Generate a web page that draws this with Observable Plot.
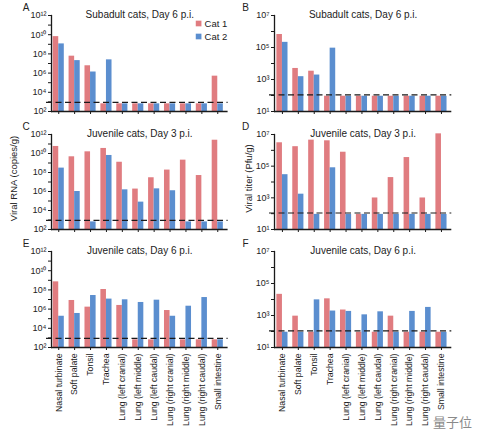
<!DOCTYPE html>
<html><head><meta charset="utf-8">
<script src="https://cdn.jsdelivr.net/npm/d3@7"></script>
<script src="https://cdn.jsdelivr.net/npm/@observablehq/plot@0.6"></script>
<style>
body{margin:0;background:#fff;}
#chart{position:relative;width:477px;height:439px;font-family:"Liberation Sans",Arial,sans-serif;overflow:hidden;}
#chart > svg{position:absolute;overflow:visible;}
#wm{position:absolute;left:433px;top:412px;font-family:"Noto Sans CJK SC",sans-serif;font-size:13px;color:#8a8a8a;}
</style></head><body><div id="chart"><div id="wm">量子位</div></div>
<script>
const categories = ["Nasal turbinate","Soft palate","Tonsil","Trachea","Lung (left cranial)","Lung (left middle)","Lung (left caudal)","Lung (right cranial)","Lung (right middle)","Lung (right caudal)","Small intestine"];
const seriesNames = ["Cat 1","Cat 2"];
const seriesColors = ["#e07c80","#5b8ecf"];

const rnaDomain = [1e2, 1e12];
const rnaTicks = [1e2,1e3,1e4,1e5,1e6,1e7,1e8,1e9,1e10,1e11,1e12];
const rnaLabeled = [1e2,1e4,1e6,1e8,1e10,1e12];
const rnaLOD = 9e2;
const rnaAxisTitle = "Viral RNA (copies/g)";

const titerDomain = [1e1, 1e7];
const titerTicks = [1e1,1e2,1e3,1e4,1e5,1e6,1e7];
const titerLabeled = [1e1,1e3,1e5,1e7];
const titerLOD = 1.1e2;
const titerAxisTitle = "Viral titer (Pfu/g)";

// Panel A: subadult, day 6, RNA
const aCat1 = [6.3e9,5.8e7,5.8e6,6.3e2,6.3e2,6.3e2,6.3e2,6.3e2,6.3e2,6.3e2,4.8e5];
const aCat2 = [1.1e9,2.0e7,1.3e6,2.4e7,6.3e2,6.3e2,6.3e2,6.3e2,6.3e2,6.3e2,6.3e2];
// Panel B: subadult, day 6, titer
const bCat1 = [6.5e5,4.9e3,3.3e3,9e1,9e1,9e1,9e1,9e1,9e1,9e1,9e1];
const bCat2 = [2.1e5,1.5e3,1.9e3,9.1e4,9e1,9e1,9e1,9e1,9e1,9e1,9e1];
// Panel C: juvenile, day 3, RNA
const cCat1 = [5.5e10,4.5e9,1.5e10,3.4e10,1.2e9,1.8e6,2.8e7,1.8e8,2.0e9,4.8e7,2.5e11];
const cCat2 = [2.9e8,1.0e6,6.3e2,6.2e9,1.5e6,7.6e4,1.9e6,1.2e6,6.3e2,6.3e2,6.3e2];
// Panel D: juvenile, day 3, titer
const dCat1 = [3.0e6,1.7e6,4.4e6,4.0e6,7.6e5,9e1,9.8e2,1.9e4,3.5e5,9.8e2,1.1e7];
const dCat2 = [2.9e4,1.7e3,9e1,7.9e4,9e1,9e1,9e1,9e1,9e1,9e1,9e1];
// Panel E: juvenile, day 6, RNA
const eCat1 = [6.9e8,7.9e6,1.6e6,1.1e8,2.4e6,6.3e2,6.3e2,7.1e5,6.3e2,6.3e2,6.3e2];
const eCat2 = [1.8e5,3.5e5,2.6e7,1.1e7,9.3e6,4.9e6,8.5e6,1.8e5,2.0e6,1.6e7,6.3e2];
// Panel F: juvenile, day 6, titer
const fCat1 = [2.1e4,9.1e2,9e1,1.1e4,2.2e3,9e1,9e1,9.1e2,9e1,9e1,9e1];
const fCat2 = [9e1,9e1,9.5e3,1.9e3,1.8e3,1.1e3,1.7e3,9e1,1.8e3,3.2e3,9e1];

const titles = ["Subadult cats, Day 6 p.i.","Juvenile cats, Day 3 p.i.","Juvenile cats, Day 6 p.i."];
const letters = ["A","B","C","D","E","F"];

const sup = "⁰¹²³⁴⁵⁶⁷⁸⁹";
function fmtPow(d) {
  const e = Math.round(Math.log10(d));
  return "10" + String(e).split("").map(c => sup[+c]).join("");
}

const ink = "#1a1a1a";
const font = "Liberation Sans, Arial, sans-serif";

function panel(cfg) {
  const {letter, title, cat1, cat2, rna, left, top, width, height, marginLeft, marginRight, marginBottom, xRange, showLabels, yTitle, legend, letterDx} = cfg;
  const domain = rna ? rnaDomain : titerDomain;
  const base = domain[0];
  const ticks = rna ? rnaTicks : titerTicks;
  const labeled = rna ? rnaLabeled : titerLabeled;
  const lod = rna ? rnaLOD : titerLOD;
  const pad = 0.3;
  const step = (xRange[1] - xRange[0]) / (categories.length + pad);
  const half = step * (1 - pad) / 2;
  const rows1 = categories.map((c, i) => ({cat: c, v: cat1[i]}));
  const rows2 = categories.map((c, i) => ({cat: c, v: cat2[i]}));
  const marks = [
    Plot.barY(rows1, {x: "cat", y1: base, y2: "v", fill: seriesColors[0], insetRight: half}),
    Plot.barY(rows2, {x: "cat", y1: base, y2: "v", fill: seriesColors[1], insetLeft: half}),
    Plot.ruleY([lod], {stroke: ink, strokeWidth: 1.2, strokeDasharray: "6,3.5", insetLeft: -5}),
    Plot.ruleY([base], {stroke: ink, strokeWidth: 1.3}),
    Plot.frame({anchor: "left", stroke: ink, strokeWidth: 1.3}),
    Plot.axisY({ticks, tickFormat: d => labeled.includes(d) ? fmtPow(d) : "", tickSize: 3, tickPadding: 2, fontSize: 9, label: null, stroke: ink, fill: "#222"}),
    Plot.axisX({tickSize: 3, tickFormat: showLabels ? (d => d) : (() => ""), tickRotate: showLabels ? -90 : 0, tickPadding: 3, fontSize: 8.7, label: null, stroke: ink, fill: "#222"}),
    Plot.text([title], {frameAnchor: "top", lineAnchor: "middle", dy: -1, fontSize: 10, fill: "#222"}),
    Plot.text([letter], {frameAnchor: "top-left", textAnchor: "middle", lineAnchor: "middle", dx: letterDx, dy: -7.5, fontSize: 10, fill: "#222"})
  ];
  if (yTitle) {
    marks.push(Plot.text([yTitle.text], {frameAnchor: "left", textAnchor: "middle", lineAnchor: "middle", rotate: -90, dx: yTitle.dx, dy: -3.5, fontSize: 9.5, fill: "#222"}));
  }
  if (legend) {
    seriesNames.forEach((s, i) => {
      marks.push(Plot.dot([s], {frameAnchor: "top-right", symbol: "square", r: 3.2, fill: seriesColors[i], dx: -29.5, dy: 8 + 13 * i}));
      marks.push(Plot.text([s], {frameAnchor: "top-right", textAnchor: "start", lineAnchor: "middle", dx: -23.5, dy: 8 + 13 * i, fontSize: 9.5, fill: "#222"}));
    });
  }
  const svg = Plot.plot({
    width, height, marginLeft, marginRight, marginTop: 15, marginBottom,
    style: {background: "none", fontFamily: font, overflow: "visible"},
    x: {type: "band", domain: categories, range: xRange, padding: pad, round: false},
    y: {type: "log", domain},
    marks
  });
  svg.style.left = left + "px";
  svg.style.top = top + "px";
  document.getElementById("chart").appendChild(svg);
}

const L = {left: 0, width: 240, marginLeft: 51, marginRight: 12.4, xRange: [47.9, 227.6], letterDx: -25.5};
const R = {left: 240, width: 237, marginLeft: 34, marginRight: 25.7, xRange: [31.6, 211.3], letterDx: -29};

panel({...L, letter: letters[0], title: titles[0], cat1: aCat1, cat2: aCat2, rna: true, top: 0, height: 120, marginBottom: 9, legend: true});
panel({...R, letter: letters[1], title: titles[0], cat1: bCat1, cat2: bCat2, rna: false, top: 0, height: 120, marginBottom: 9});
panel({...L, letter: letters[2], title: titles[1], cat1: cCat1, cat2: cCat2, rna: true, top: 119, height: 120, marginBottom: 10, yTitle: {text: rnaAxisTitle, dx: -38}});
panel({...R, letter: letters[3], title: titles[1], cat1: dCat1, cat2: dCat2, rna: false, top: 119, height: 120, marginBottom: 10, yTitle: {text: titerAxisTitle, dx: -26}});
panel({...L, letter: letters[4], title: titles[2], cat1: eCat1, cat2: eCat2, rna: true, top: 236, height: 203, marginBottom: 92, showLabels: true});
panel({...R, letter: letters[5], title: titles[2], cat1: fCat1, cat2: fCat2, rna: false, top: 236, height: 203, marginBottom: 92, showLabels: true});
</script></body></html>
